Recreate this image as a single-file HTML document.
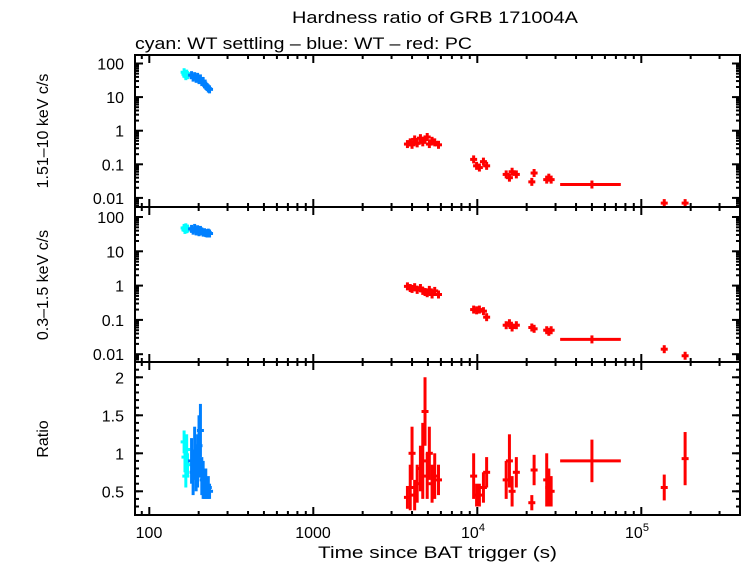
<!DOCTYPE html>
<html><head><meta charset="utf-8"><style>
html,body{margin:0;padding:0;background:#fff}
svg{display:block;font-family:"Liberation Sans",sans-serif}
</style></head><body>
<svg id="c" width="742" height="566" viewBox="0 0 742 566">
<text x="292" y="23" font-size="17" textLength="286" lengthAdjust="spacingAndGlyphs">Hardness ratio of GRB 171004A</text>
<text x="135" y="49" font-size="17" textLength="337" lengthAdjust="spacingAndGlyphs">cyan: WT settling – blue: WT – red: PC</text>
<text x="318" y="558" font-size="17" textLength="239" lengthAdjust="spacingAndGlyphs">Time since BAT trigger (s)</text>
<text transform="translate(48,131) rotate(-90)" font-size="16" text-anchor="middle">1.51–10 keV c/s</text>
<text transform="translate(48,285) rotate(-90)" font-size="16" text-anchor="middle">0.3–1.5 keV c/s</text>
<text transform="translate(48,439) rotate(-90)" font-size="16" text-anchor="middle">Ratio</text>
<g id="marks"></g>
<g id="axes"></g>
</svg>
<script>
// ---- data ----
const cyanT  = [163,165,167,169,171];
const cyanHard = [55,48,42,50,45];
const cyanSoft = [48,42,50,44,46];
const cyanRatio = [1.15,0.95,0.7,1.05,0.85];
const cyanRatioErr = [0.15,0.2,0.15,0.2,0.15];

const blueT = [181,185,189,193,197,201,205,209,213,217,221,225,229,233];
const blueHard = [45,38,42,35,40,32,36,28,30,24,22,20,18,17];
const blueSoft = [45,40,48,38,44,36,42,38,35,36,34,33,35,33];
const blueRatio = [0.9,0.75,1.0,0.8,0.9,1.1,1.3,0.7,0.65,0.55,0.6,0.5,0.55,0.5];
const blueRatioErr = [0.3,0.3,0.35,0.3,0.35,0.4,0.35,0.25,0.25,0.15,0.2,0.1,0.15,0.1];

const redT = [3750,3900,4000,4150,4300,4500,4650,4800,4950,5100,5300,5500,5800,9500,9900,10300,10900,11400,15000,15700,16300,17300,21500,22200,26500,27300,28200,50000,138000,185000];
const redTLo = [3700,3850,3950,4100,4250,4450,4600,4750,4900,5050,5250,5450,5750,9400,9800,10200,10800,11300,14900,15600,16200,17200,21400,22100,26400,27200,28100,32000,134000,180000];
const redTHi = [3800,3950,4050,4200,4350,4550,4700,4850,5000,5150,5350,5550,5850,9600,10000,10400,11000,11500,15100,15800,16400,17400,21600,22300,26600,27400,28300,75000,142000,190000];
const redHard = [0.40,0.45,0.38,0.55,0.42,0.60,0.45,0.55,0.65,0.40,0.50,0.45,0.38,0.14,0.09,0.08,0.12,0.09,0.05,0.04,0.06,0.05,0.03,0.055,0.035,0.04,0.035,0.025,0.007,0.007];
const redSoft = [0.95,0.85,0.80,0.90,0.75,0.85,0.70,0.65,0.60,0.75,0.55,0.70,0.55,0.20,0.19,0.20,0.18,0.12,0.07,0.08,0.06,0.07,0.06,0.055,0.05,0.045,0.05,0.027,0.014,0.009];
const redRatio = [0.42,0.55,1.0,0.45,0.6,0.8,0.9,1.55,0.7,1.0,0.6,0.7,0.65,0.7,0.45,0.45,0.55,0.75,0.65,0.9,0.5,0.75,0.35,0.78,0.65,0.55,0.5,0.9,0.55,0.93];
const redRatioErr = [0.15,0.3,0.35,0.2,0.25,0.3,0.5,0.45,0.3,0.35,0.25,0.3,0.2,0.3,0.15,0.15,0.2,0.2,0.25,0.35,0.2,0.2,0.1,0.2,0.35,0.25,0.2,0.28,0.17,0.35];

// ---- axes ----
const X0=135,X1=740;
const sx = t => 149.3 + (Math.log10(t)-2)*164;
const panels = [
  {top:55,bot:207,log:true,y:v=>63.5+(2-Math.log10(v))*33.6,ticks:[100,10,1,0.1,0.01],labels:["100","10","1","0.1","0.01"]},
  {top:207,bot:362,log:true,y:v=>217+(2-Math.log10(v))*34.3,ticks:[100,10,1,0.1,0.01],labels:["100","10","1","0.1","0.01"]},
  {top:362,bot:515,log:false,y:v=>453.3-(v-1)*76,ticks:[2,1.5,1,0.5],labels:["2","1.5","1","0.5"]}
];
const NS="http://www.w3.org/2000/svg";
const axes=document.getElementById('axes'), marks=document.getElementById('marks');
function ln(g,x1,y1,x2,y2,c,w){const l=document.createElementNS(NS,'line');l.setAttribute('x1',x1);l.setAttribute('y1',y1);l.setAttribute('x2',x2);l.setAttribute('y2',y2);l.setAttribute('stroke',c);l.setAttribute('stroke-width',w);g.appendChild(l);return l;}
function tx(x,y,s,anchor,name){const t=document.createElementNS(NS,'text');t.setAttribute('x',x);t.setAttribute('y',y);t.setAttribute('font-size','16');t.setAttribute('text-anchor',anchor);t.textContent=s;


axes.appendChild(t);return t;}

panels.forEach((p,i)=>{
  const r=document.createElementNS(NS,'rect');r.setAttribute('x',X0);r.setAttribute('y',p.top);r.setAttribute('width',X1-X0);r.setAttribute('height',p.bot-p.top);r.setAttribute('fill','none');r.setAttribute('stroke','#000');r.setAttribute('stroke-width','2');
  
  
  axes.appendChild(r);
  for(let d=2;d<=5;d++){for(let m=1;m<=9;m++){const t=m*Math.pow(10,d);const x=sx(t);if(x<X0||x>X1)continue;const L=m==1?8:4;
    ln(axes,x,p.top,x,p.top+L,'#000',2);ln(axes,x,p.bot,x,p.bot-L,'#000',2);}}
  [80,90].forEach(t=>{const x=sx(t);if(x>X0){ln(axes,x,p.top,x,p.top+4,'#000',2);ln(axes,x,p.bot,x,p.bot-4,'#000',2);}});
  p.ticks.forEach((v,k)=>{const y=p.y(v);ln(axes,X0,y,X0+8,y,'#000',2);ln(axes,X1,y,X1-8,y,'#000',2);
    tx(124,y+6,p.labels[k],'end','y-tick-label-'+(i+1));});
  if(p.log){for(let d=-3;d<=2;d++)for(let m=2;m<=9;m++){const y=p.y(m*Math.pow(10,d));if(y<p.top+1||y>p.bot-1)continue;ln(axes,X0,y,X0+4,y,'#000',2);ln(axes,X1,y,X1-4,y,'#000',2);}}
  else{for(let v=0.2;v<2.25;v+=0.1){const y=p.y(v);if(y<p.top+1||y>p.bot-1)continue;ln(axes,X0,y,X0+4,y,'#000',2);ln(axes,X1,y,X1-4,y,'#000',2);}}
});
tx(149,538,"100","middle","x-tick-label");
tx(313,538,"1000","middle","x-tick-label");
const t4=tx(473,538,"10","middle","x-tick-label");const s4=document.createElementNS(NS,'tspan');s4.setAttribute('dy','-7');s4.setAttribute('font-size','11');s4.textContent='4';t4.appendChild(s4);
const t5=tx(637,538,"10","middle","x-tick-label");const s5=document.createElementNS(NS,'tspan');s5.setAttribute('dy','-7');s5.setAttribute('font-size','11');s5.textContent='5';t5.appendChild(s5);

function point(p,t,tlo,thi,v,vlo,vhi,col,name){
  const g=document.createElementNS(NS,'g');
  
  
  const x=sx(t),xa=Math.min(sx(tlo),x-3.5),xb=Math.max(sx(thi),x+3.5);
  const y=p.y(v),ya=Math.max(p.y(vlo),y+4),yb=Math.min(p.y(vhi),y-4);
  ln(g,xa,y,xb,y,col,3);
  ln(g,x,ya,x,yb,col,3);
  marks.appendChild(g);
}
function series(T,H,S,R,RE,col,name,lo,hi){
  T.forEach((t,i)=>{
    const a=lo?lo[i]:t*0.99, b=hi?hi[i]:t*1.01;
    point(panels[0],t,a,b,H[i],H[i]*0.78,H[i]*1.28,col,name+'-hard');
    point(panels[1],t,a,b,S[i],S[i]*0.8,S[i]*1.25,col,name+'-soft');
    point(panels[2],t,a,b,R[i],R[i]-RE[i],R[i]+RE[i],col,name+'-ratio');
  });
}
series(cyanT,cyanHard,cyanSoft,cyanRatio,cyanRatioErr,'#00ffff','wt-settling-point');
series(blueT,blueHard,blueSoft,blueRatio,blueRatioErr,'#0080ff','wt-point');
series(redT,redHard,redSoft,redRatio,redRatioErr,'#ff0000','pc-point',redTLo,redTHi);
</script>
</body></html>
